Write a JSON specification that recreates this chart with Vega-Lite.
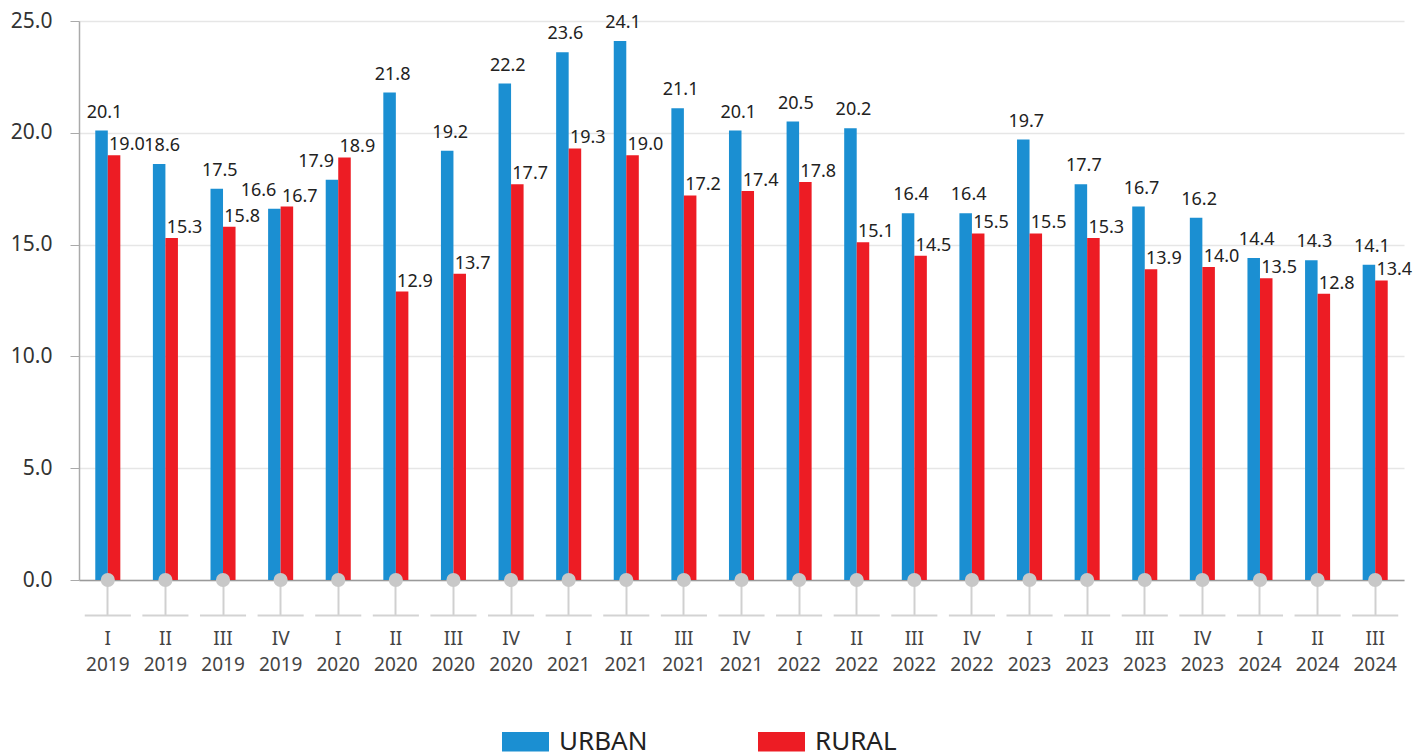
{
  "$schema": "https://vega.github.io/schema/vega-lite/v6.json",
  "width": 1325,
  "height": 559,
  "autosize": {"type": "none"},
  "padding": {"left": 79, "top": 21, "right": 22, "bottom": 176},
  "background": "white",
  "config": {"font": "Noto Sans", "view": {"stroke": null}},
  "data": {
    "values": [
      {"period": "I 2019", "series": "URBAN", "value": 20.1}, {"period": "I 2019", "series": "RURAL", "value": 19.0},
      {"period": "II 2019", "series": "URBAN", "value": 18.6}, {"period": "II 2019", "series": "RURAL", "value": 15.3},
      {"period": "III 2019", "series": "URBAN", "value": 17.5}, {"period": "III 2019", "series": "RURAL", "value": 15.8},
      {"period": "IV 2019", "series": "URBAN", "value": 16.6}, {"period": "IV 2019", "series": "RURAL", "value": 16.7},
      {"period": "I 2020", "series": "URBAN", "value": 17.9}, {"period": "I 2020", "series": "RURAL", "value": 18.9},
      {"period": "II 2020", "series": "URBAN", "value": 21.8}, {"period": "II 2020", "series": "RURAL", "value": 12.9},
      {"period": "III 2020", "series": "URBAN", "value": 19.2}, {"period": "III 2020", "series": "RURAL", "value": 13.7},
      {"period": "IV 2020", "series": "URBAN", "value": 22.2}, {"period": "IV 2020", "series": "RURAL", "value": 17.7},
      {"period": "I 2021", "series": "URBAN", "value": 23.6}, {"period": "I 2021", "series": "RURAL", "value": 19.3},
      {"period": "II 2021", "series": "URBAN", "value": 24.1}, {"period": "II 2021", "series": "RURAL", "value": 19.0},
      {"period": "III 2021", "series": "URBAN", "value": 21.1}, {"period": "III 2021", "series": "RURAL", "value": 17.2},
      {"period": "IV 2021", "series": "URBAN", "value": 20.1}, {"period": "IV 2021", "series": "RURAL", "value": 17.4},
      {"period": "I 2022", "series": "URBAN", "value": 20.5}, {"period": "I 2022", "series": "RURAL", "value": 17.8},
      {"period": "II 2022", "series": "URBAN", "value": 20.2}, {"period": "II 2022", "series": "RURAL", "value": 15.1},
      {"period": "III 2022", "series": "URBAN", "value": 16.4}, {"period": "III 2022", "series": "RURAL", "value": 14.5},
      {"period": "IV 2022", "series": "URBAN", "value": 16.4}, {"period": "IV 2022", "series": "RURAL", "value": 15.5},
      {"period": "I 2023", "series": "URBAN", "value": 19.7}, {"period": "I 2023", "series": "RURAL", "value": 15.5},
      {"period": "II 2023", "series": "URBAN", "value": 17.7}, {"period": "II 2023", "series": "RURAL", "value": 15.3},
      {"period": "III 2023", "series": "URBAN", "value": 16.7}, {"period": "III 2023", "series": "RURAL", "value": 13.9},
      {"period": "IV 2023", "series": "URBAN", "value": 16.2}, {"period": "IV 2023", "series": "RURAL", "value": 14.0},
      {"period": "I 2024", "series": "URBAN", "value": 14.4}, {"period": "I 2024", "series": "RURAL", "value": 13.5},
      {"period": "II 2024", "series": "URBAN", "value": 14.3}, {"period": "II 2024", "series": "RURAL", "value": 12.8},
      {"period": "III 2024", "series": "URBAN", "value": 14.1}, {"period": "III 2024", "series": "RURAL", "value": 13.4}
    ]
  },
  "encoding": {
    "x": {
      "field": "period",
      "type": "nominal",
      "sort": null,
      "scale": {"paddingInner": 0.2, "paddingOuter": 0.1},
      "axis": {
        "title": null,
        "labelExpr": "split(datum.label, ' ')",
        "labelAngle": 0,
        "labelFontSize": 19,
        "labelColor": "#444444",
        "labelLineHeight": 26,
        "labelPadding": 14,
        "tickSize": 35,
        "tickColor": "#d0d0d0",
        "tickWidth": 2,
        "domainColor": "#9a9a9a",
        "domainWidth": 1.5,
        "grid": false
      }
    },
    "y": {
      "field": "value",
      "type": "quantitative",
      "scale": {"domain": [0, 25], "nice": false},
      "axis": {
        "title": null,
        "values": [0, 5, 10, 15, 20, 25],
        "format": ".1f",
        "labelFontSize": 21,
        "labelColor": "#333333",
        "labelPadding": 18,
        "tickSize": 9,
        "tickColor": "#aaaaaa",
        "domainColor": "#aaaaaa",
        "domainWidth": 1.5,
        "gridColor": "#e6e6e6",
        "gridWidth": 1.5,
        "grid": true
      }
    }
  },
  "layer": [
    {
      "mark": {"type": "bar"},
      "encoding": {
        "xOffset": {"field": "series", "type": "nominal", "sort": ["URBAN", "RURAL"], "scale": {"domain": ["URBAN", "RURAL"], "paddingInner": 0, "paddingOuter": 0.84}},
        "color": {
          "field": "series",
          "type": "nominal",
          "scale": {"domain": ["URBAN", "RURAL"], "range": ["#1b8fd2", "#ed1c24"]},
          "legend": {
            "orient": "none",
            "legendX": 423,
            "legendY": 697,
            "direction": "horizontal",
            "title": null,
            "symbolType": "M-1,-0.42L1,-0.42L1,0.42L-1,0.42Z",
            "symbolSize": 2209,
            "symbolStrokeWidth": 0,
            "symbolOpacity": 1,
            "labelFontSize": 26,
            "labelColor": "#222222",
            "columnPadding": 110,
            "labelOffset": 10,
            "padding": 0
          }
        }
      }
    },
    {
      "transform": [
        {"joinaggregate": [{"op": "max", "field": "value", "as": "maxv"}], "groupby": ["period"]},
        {"filter": "datum.series === 'URBAN' && datum.value >= datum.maxv"}
      ],
      "mark": {"type": "text", "align": "center", "baseline": "alphabetic", "dx": 3, "dy": -13, "fontSize": 18, "color": "#222222"},
      "encoding": {
        "xOffset": {"field": "series", "type": "nominal", "scale": {"domain": ["URBAN", "RURAL"], "paddingInner": 0, "paddingOuter": 0.84}},
        "text": {"field": "value", "type": "quantitative", "format": ".1f"}
      }
    },
    {
      "transform": [
        {"joinaggregate": [{"op": "max", "field": "value", "as": "maxv"}], "groupby": ["period"]},
        {"filter": "datum.series === 'URBAN' && datum.value < datum.maxv"}
      ],
      "mark": {"type": "text", "align": "right", "baseline": "alphabetic", "dx": 2, "dy": -13, "fontSize": 18, "color": "#222222"},
      "encoding": {
        "xOffset": {"field": "series", "type": "nominal", "scale": {"domain": ["URBAN", "RURAL"], "paddingInner": 0, "paddingOuter": 0.84}},
        "text": {"field": "value", "type": "quantitative", "format": ".1f"}
      }
    },
    {
      "transform": [{"filter": "datum.series === 'RURAL'"}],
      "mark": {"type": "text", "align": "left", "baseline": "alphabetic", "dx": -5, "dy": -5, "fontSize": 18, "color": "#222222"},
      "encoding": {
        "xOffset": {"field": "series", "type": "nominal", "scale": {"domain": ["URBAN", "RURAL"], "paddingInner": 0, "paddingOuter": 0.84}},
        "text": {"field": "value", "type": "quantitative", "format": ".1f"}
      }
    },
    {
      "transform": [{"filter": "datum.series === 'URBAN'"}],
      "mark": {"type": "bar", "color": "#d3d3d3"},
      "encoding": {
        "y": {"datum": -1.54, "type": "quantitative", "scale": {"domain": [0, 25], "nice": false}},
        "y2": {"datum": -1.63}
      }
    },
    {
      "transform": [{"filter": "datum.series === 'URBAN'"}],
      "mark": {"type": "point", "filled": true, "size": 200, "color": "#c8c8c8", "opacity": 1},
      "encoding": {
        "y": {"datum": 0, "type": "quantitative", "scale": {"domain": [0, 25], "nice": false}}
      }
    }
  ]
}
